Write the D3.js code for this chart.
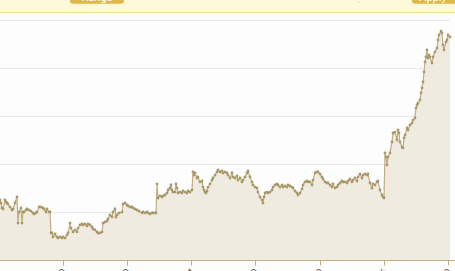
<!DOCTYPE html>
<html><head><meta charset="utf-8">
<script src="https://cdn.jsdelivr.net/npm/d3@7"></script>
<style>html,body{margin:0;padding:0;background:#fdfdfd;overflow:hidden}svg{display:block}</style>
</head><body>
<svg id="c" width="455" height="271"></svg>
<script>
// sample positions (trading-day index) and values
const days = [0,1,2,3,5,6,7,8,10,12,13,15,17,18,19,21,22,23,24,26,27,29,31,33,34,36,37,39,41,43,44,46,47,49,50,51,
52,53,55,57,58,60,62,63,65,67,68,70,71,73,75,77,78,80,82,83,85,87,88,90,92,93,95,97,98,100,102,103,105,107,108,110,112,113,115,116,117,119,122,123,125,127,128,130,132,133,135,137,139,142,143,145,147,148,150,152,153,155,156,
157,158,160,162,163,165,167,168,170,171,172,173,175,176,177,178,180,182,183,185,187,188,190,192,193,194,195,197,198,200,202,203,204,205,206,207,208,210,212,213,215,217,218,220,222,223,225,227,228,230,232,233,235,237,238,240,242,243,245,247,248,250,252,253,255,257,258,260,262,263,264,265,267,268,270,272,273,275,277,278,280,282,283,285,287,288,290,292,293,295,297,298,
300,302,303,305,307,308,310,312,313,315,317,318,320,322,323,325,327,328,330,332,333,335,337,338,340,342,343,345,347,348,350,352,353,355,357,358,360,362,363,365,367,368,370,372,373,375,377,378,380,382,383,384,
385,386,387,388,390,392,393,395,397,398,399,400,402,403,404,405,407,408,410,412,413,415,416,417,418,420,421,422,423,424,425,426,427,428,429,430,432,433,435,437,438,439,441,442,443,444,446,447,448,450];
const values = [62.5,59.4,54.2,53.1,62.5,60.4,59.4,58.3,55.2,52.1,53.1,59.4,65.6,38.5,50.0,54.2,38.5,50.0,50.0,52.1,53.1,52.1,51.0,49.0,47.9,49.0,50.0,55.2,55.2,54.2,53.1,50.0,53.1,50.0,50.0,28.1,
28.1,24.0,27.1,24.0,22.9,24.0,22.9,24.0,22.9,26.0,28.1,38.5,33.3,29.2,31.3,29.2,33.3,36.5,37.5,36.5,37.5,35.4,37.5,36.5,34.4,32.3,31.3,29.2,28.1,28.1,29.2,38.5,39.6,40.6,42.7,46.9,44.8,50.0,53.1,44.8,46.9,49.0,50.0,58.3,59.4,57.3,56.3,55.2,55.2,54.2,53.1,52.1,51.0,49.0,50.0,49.0,50.0,49.0,47.9,49.0,49.0,49.0,49.0,
79.2,64.6,66.7,65.6,66.7,67.7,69.8,72.9,75.0,78.1,72.9,70.8,70.8,79.2,75.0,69.8,70.8,69.8,71.9,70.8,69.8,71.9,70.8,72.9,91.7,88.5,90.6,85.4,86.5,81.3,82.3,76.0,72.9,70.8,69.8,71.9,76.0,79.2,83.3,85.4,88.5,91.7,93.8,91.7,92.7,90.6,91.7,90.6,88.5,85.4,90.6,86.5,85.4,87.5,83.3,85.4,81.3,83.3,86.5,90.6,92.7,86.5,81.3,78.1,76.0,75.0,70.8,65.6,62.5,59.4,65.6,69.8,70.8,69.8,70.8,72.9,76.0,78.1,79.2,78.1,76.0,78.1,76.0,77.1,76.0,78.1,77.1,76.0,75.0,71.9,69.8,67.7,
69.8,74.0,78.1,81.3,82.3,81.3,81.3,78.1,83.3,90.6,91.7,91.7,89.6,86.5,84.4,81.3,80.2,80.2,78.1,76.0,79.2,75.0,76.0,78.1,80.2,82.3,81.3,81.3,80.2,82.3,84.4,81.3,83.3,85.4,82.3,86.5,89.6,85.4,88.5,89.6,88.5,89.6,80.2,75.0,79.2,78.1,81.3,82.3,72.9,67.7,65.6,64.6,
111.5,107.3,99.0,107.3,111.5,122.9,132.3,133.3,125.0,135.4,132.3,122.9,117.7,116.7,127.1,130.2,137.5,135.4,140.6,142.7,145.8,147.9,158.3,161.5,163.5,166.7,174.0,179.2,185.4,195.8,206.3,211.5,218.8,210.4,213.5,211.5,205.2,211.5,216.7,220.8,229.2,234.4,238.5,236.5,224.0,218.8,227.1,229.2,234.4,232.3];
const tickDays = [63,127,191,255,320,384,448];
const tickLabels = ["1/10","2/20","3/04","4/10","5/20","6/06","7/10"];
const yTicks = [0,50,100,150,200,250];

const svg = d3.select("#c");
const W = 455, H = 271;
const x = d3.scaleLinear().domain([0,450]).range([0,450]);
const y = d3.scaleLinear().domain([0,250]).range([260,20]);
const data = days.map((d,i)=>({d, v: values[i]}));

// toolbar band
svg.append("rect").attr("x",0).attr("y",0).attr("width",W).attr("height",12.5).attr("fill","#fef9d8");
svg.append("line").attr("x1",0).attr("x2",W).attr("y1",12.5).attr("y2",12.5).attr("stroke","#f1de9c").attr("stroke-width",1.2);
svg.append("rect").attr("x",70).attr("y",-6).attr("width",54).attr("height",9.8).attr("rx",3).attr("fill","#dfb84b");
svg.append("rect").attr("x",412).attr("y",-6).attr("width",54).attr("height",9.8).attr("rx",3).attr("fill","#dfb84b");
svg.append("text").attr("x",97).attr("y",0.6).attr("text-anchor","middle").attr("font-family","Roboto, sans-serif").attr("font-size",11).attr("fill","#fff").text("Range");
svg.append("text").attr("x",433).attr("y",0.6).attr("text-anchor","middle").attr("font-family","Roboto, sans-serif").attr("font-size",11).attr("fill","#fff").text("Apply");
svg.append("text").attr("x",360).attr("y",3.2).attr("text-anchor","end").attr("font-family","Roboto, sans-serif").attr("font-size",8).attr("fill","#aaa").text(":");

// grid
svg.append("g").selectAll("line").data(yTicks.filter(t=>t>0)).join("line")
  .attr("x1",0).attr("x2",450).attr("y1",d=>Math.round(y(d))+0.5).attr("y2",d=>Math.round(y(d))+0.5)
  .attr("stroke","#e9e9e9").attr("stroke-width",1);

// area
svg.append("path").datum(data)
  .attr("d", d3.area().x(p=>x(p.d)).y0(y(0)).y1(p=>y(p.v)))
  .attr("fill","#f0ebe0");
svg.append("path").datum(data)
  .attr("d", d3.line().x(p=>x(p.d)).y(p=>y(p.v)))
  .attr("fill","none").attr("stroke","#c2ad84").attr("stroke-width",1.2);
svg.append("g").selectAll("circle").data(data).join("circle")
  .attr("cx",p=>x(p.d)).attr("cy",p=>y(p.v)).attr("r",1.4).attr("fill","#a99868");

// x axis
const ax = svg.append("g").attr("transform","translate(0,260.5)");
ax.append("line").attr("x1",0).attr("x2",W).attr("stroke","#c9aa7c").attr("stroke-width",1);
ax.selectAll("line.t").data(tickDays).join("line").attr("class","t")
  .attr("x1",d=>Math.round(x(d))+0.5).attr("x2",d=>Math.round(x(d))+0.5).attr("y1",0).attr("y2",5)
  .attr("stroke","#c9aa7c");
ax.selectAll("text").data(tickDays).join("text")
  .attr("transform",d=>`translate(${x(d)+2},${10}) rotate(-45)`)
  .attr("text-anchor","end").attr("dy","0.35em")
  .attr("font-family","Roboto, sans-serif").attr("font-size",11).attr("fill","#666")
  .text((d,i)=>tickLabels[i]);
</script>
</body></html>
